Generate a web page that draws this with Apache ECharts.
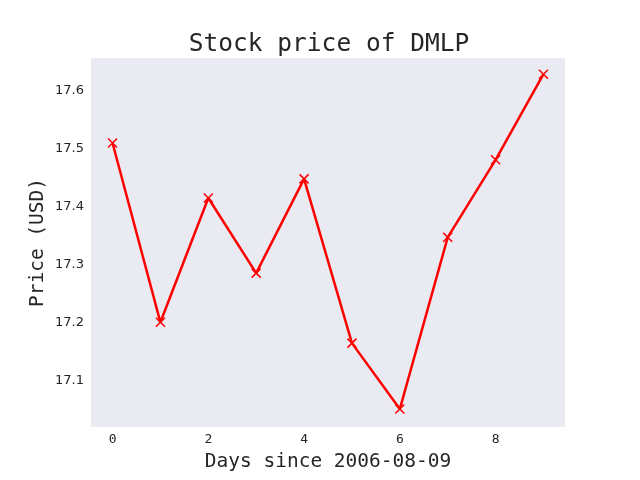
<!DOCTYPE html>
<html>
<head>
<meta charset="utf-8">
<script src="https://cdn.jsdelivr.net/npm/echarts@6/dist/echarts.min.js"></script>
<style>
  html, body { margin: 0; padding: 0; background: #fff; }
  #chart { width: 640px; height: 480px; }
</style>
</head>
<body>
<div id="chart"></div>
<script>
// 数据
var days = [0, 1, 2, 3, 4, 5, 6, 7, 8, 9];
var prices = [17.510, 17.200, 17.415, 17.285, 17.448, 17.164, 17.050, 17.347, 17.481, 17.629];
var xTicks = [0, 2, 4, 6, 8];
var yTicks = [17.1, 17.2, 17.3, 17.4, 17.5, 17.6];

var myChart = echarts.init(document.getElementById('chart'));
var points = days.map(function (d, i) { return [d, prices[i]]; });

var option = {
    backgroundColor: '#ffffff',
    animation: false,
    title: {
        text: 'Stock price of DMLP',
        left: 324,
        textAlign: 'center',
        top: 27,
        textStyle: { fontFamily: 'DejaVu Sans Mono', fontSize: 24.5, fontWeight: 'normal', color: '#262626' }
    },
    grid: {
        left: 91, right: 75, top: 58, bottom: 53,
        outerBoundsMode: 'none',
        containLabel: false,
        show: true, backgroundColor: '#EAEAF2', borderWidth: 0
    },
    xAxis: {
        type: 'value',
        min: -0.45, max: 9.45,
        name: 'Days since 2006-08-09',
        nameLocation: 'middle',
        nameGap: 25,
        nameTextStyle: { fontFamily: 'DejaVu Sans Mono', fontSize: 19.5, color: '#262626' },
        axisLine: { show: false },
        axisTick: { show: false },
        splitLine: { show: false },
        axisLabel: {
            customValues: xTicks,
            margin: 6,
            fontFamily: 'DejaVu Sans Mono', fontSize: 13, color: '#262626'
        }
    },
    yAxis: {
        type: 'value',
        min: 17.019, max: 17.657,
        name: 'Price (USD)',
        nameLocation: 'middle',
        nameGap: 43,
        nameMoveOverlap: false,
        nameRotate: 90,
        nameTextStyle: { fontFamily: 'DejaVu Sans Mono', fontSize: 19.5, color: '#262626' },
        axisLine: { show: false },
        axisTick: { show: false },
        splitLine: { show: false },
        axisLabel: {
            customValues: yTicks,
            margin: 7,
            formatter: function (v) { return v.toFixed(1); },
            fontFamily: 'DejaVu Sans', fontSize: 13, color: '#262626'
        }
    },
    series: [{
        type: 'line',
        data: points,
        symbol: 'path://M0,0L10,10M10,0L0,10',
        symbolSize: 9,
        showAllSymbol: true,
        lineStyle: { color: '#FF0000', width: 2.5 },
        itemStyle: { color: 'rgba(0,0,0,0)', borderColor: '#FF0000', borderWidth: 1.5 }
    }]
};
myChart.setOption(option);
</script>
</body>
</html>
